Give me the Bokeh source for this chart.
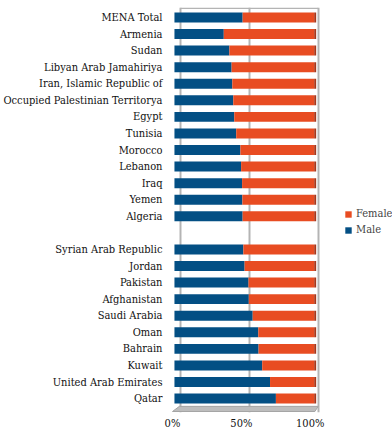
from bokeh.plotting import figure
from bokeh.models import (Range1d, FixedTicker, LinearAxis, Grid, Legend, LegendItem,
                          ColumnDataSource)
from bokeh.embed import file_html
from bokeh.resources import INLINE

# ---- data (top to bottom; "" marks the gap row) ----
countries = ["MENA Total", "Armenia", "Sudan", "Libyan Arab Jamahiriya",
             "Iran, Islamic Republic of", "Occupied Palestinian Territorya",
             "Egypt", "Tunisia", "Morocco", "Lebanon", "Iraq", "Yemen", "Algeria",
             "",
             "Syrian Arab Republic", "Jordan", "Pakistan", "Afghanistan",
             "Saudi Arabia", "Oman", "Bahrain", "Kuwait", "United Arab Emirates",
             "Qatar"]
male = [48.8, 35.3, 39.3, 40.9, 41.4, 42.1, 42.8, 44.2, 47.2, 47.7, 48.4, 48.6, 48.8,
        None,
        49.3, 50.2, 53.0, 53.2, 56.0, 60.0, 60.2, 62.8, 68.4, 72.6]
x_ticks = [0, 50, 100]
x_tick_labels = ["0%", "50%", "100%"]

BLUE = "#034f84"
ORANGE = "#e84c22"
FONT = "DejaVu Serif Condensed"

n = len(countries)
names, ys, m_vals = [], [], []
for i, (c, m) in enumerate(zip(countries, male)):
    if c == "":
        continue
    names.append(c)
    ys.append(n - 1 - i)
    m_vals.append(m)
src = ColumnDataSource(dict(y=ys, male=m_vals, total=[100] * len(ys),
                            side=[101.4] * len(ys), name=names))

p = figure(width=392, height=432, output_backend="svg", toolbar_location=None,
           x_range=Range1d(-4.26, 156.03), y_range=Range1d(-0.84, 23.6),
           min_border_left=166, min_border_top=7, min_border_bottom=0,
           min_border_right=0, x_axis_location=None, y_axis_location=None)
p.outline_line_color = None
p.xgrid.visible = False
p.ygrid.visible = False
p.extra_x_ranges = {"wall": Range1d(-8.63, 153.96), "lbl": Range1d(-2.88, 159.71)}

# back wall grid lines
wall_grid = Grid(dimension=0, ticker=FixedTicker(ticks=x_ticks), x_range_name="wall",
                 grid_line_color="#b4b4b4", grid_line_width=2)
p.add_layout(wall_grid)
p.segment(x0=[0], x1=[100], y0=[23.55], y1=[23.55], x_range_name="wall",
          line_color="#b4b4b4", line_width=1.5)

# floor
p.patch(x=[3.5, 102.8, 100.5, -1.4], y=[-0.47, -0.47, -0.78, -0.78],
        fill_color="#bdbdbd", line_color="#a5a5a5", line_width=1)

# bars
male_r = p.hbar(y="y", left=0, right="male", height=0.6, source=src,
                fill_color=BLUE, line_color=None)
fem_r = p.hbar(y="y", left="male", right="total", height=0.6, source=src,
               fill_color=ORANGE, line_color=None)
# 3D side faces
p.hbar(y="y", left="total", right="side", height=0.6, source=src,
       fill_color="#a8361a", line_color=None)

# y axis labels
y_axis = LinearAxis(ticker=FixedTicker(ticks=ys),
                    major_label_overrides={y: nm for y, nm in zip(ys, names)})
y_axis.axis_line_color = None
y_axis.major_tick_line_color = None
y_axis.minor_tick_line_color = None
y_axis.major_tick_out = 0
y_axis.major_tick_in = 0
y_axis.major_label_standoff = 6
y_axis.major_label_text_font = FONT
y_axis.major_label_text_font_size = "11px"
y_axis.major_label_text_color = "#111111"
p.add_layout(y_axis, "left")

x_axis = LinearAxis(x_range_name="lbl", ticker=FixedTicker(ticks=x_ticks),
                    major_label_overrides={t: l for t, l in zip(x_ticks, x_tick_labels)})
x_axis.axis_line_color = None
x_axis.major_tick_line_color = None
x_axis.minor_tick_line_color = None
x_axis.major_tick_out = 0
x_axis.major_tick_in = 0
x_axis.major_label_standoff = 4
x_axis.major_label_text_font = FONT
x_axis.major_label_text_font_size = "11px"
x_axis.major_label_text_color = "#111111"
p.add_layout(x_axis, "below")

legend = Legend(items=[LegendItem(label="Female", renderers=[fem_r]),
                       LegendItem(label="Male", renderers=[male_r])],
                location=(176, 176), orientation="vertical")
legend.glyph_width = 8
legend.glyph_height = 8
legend.label_text_font = FONT
legend.label_text_font_size = "11px"
legend.label_standoff = 4
legend.spacing = 3
legend.padding = 0
legend.margin = 0
legend.border_line_color = None
legend.background_fill_alpha = 0
legend.label_height = 12
p.add_layout(legend)

open("out.html", "w").write(file_html(p, INLINE))
